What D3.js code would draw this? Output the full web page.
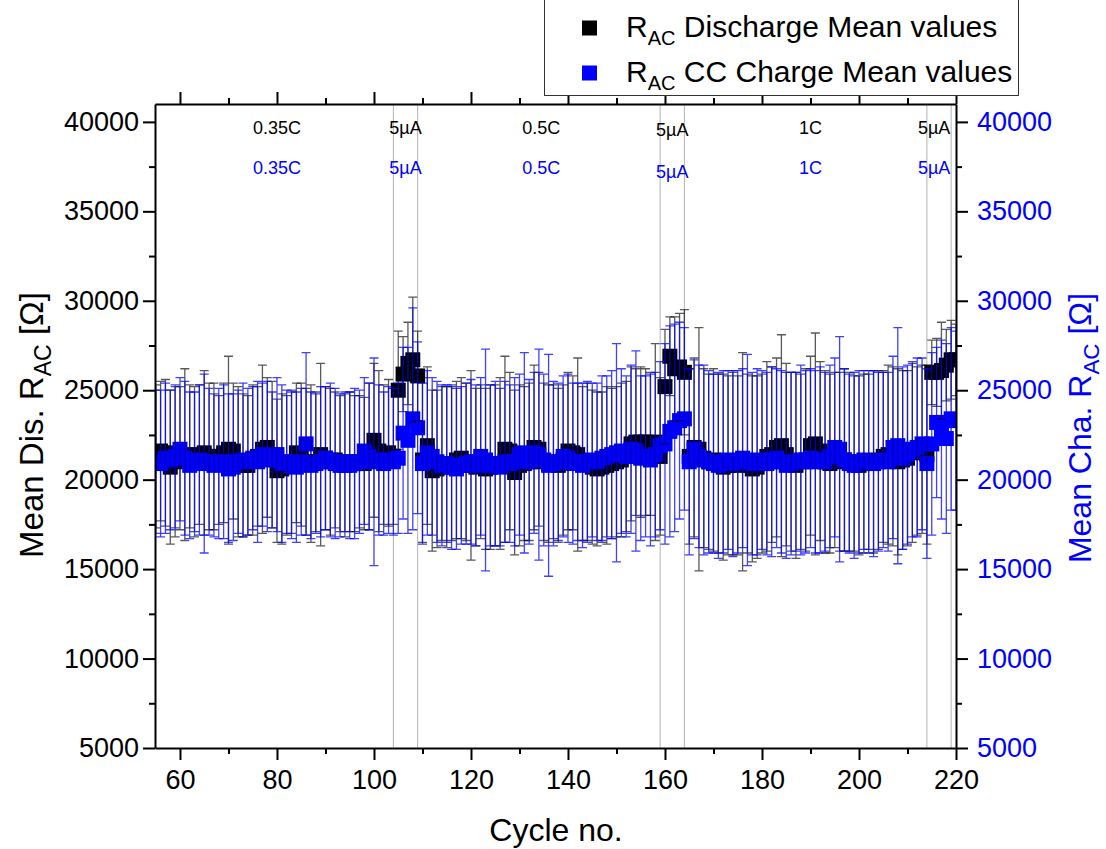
<!DOCTYPE html>
<meta charset="utf-8">
<style>
body { margin: 0; background: #fff; }
svg { font-family: "Liberation Sans", Arial, sans-serif; }
.axis path, .axis line { stroke: #000; stroke-width: 2px; }
.axis text { font-size: 27px; fill: #000; }
.axis.right text { fill: #0000ff; }
</style>
<svg width="1106" height="849"></svg>
<script src="https://cdn.jsdelivr.net/npm/d3@7"></script>
<script>

// cycle numbers 55..220
var cycles = [55,56,57,58,59,60,61,62,63,64,65,66,67,68,69,70,71,72,73,74,75,76,77,78,79,80,81,82,83,84,
  85,86,87,88,89,90,91,92,93,94,95,96,97,98,99,100,101,102,103,104,105,106,107,108,109,
  110,111,112,113,114,115,116,117,118,119,120,121,122,123,124,125,126,127,128,129,130,131,132,133,134,
  135,136,137,138,139,140,141,142,143,144,145,146,147,148,149,150,151,152,153,154,155,156,157,158,159,
  160,161,162,163,164,165,166,167,168,169,170,171,172,173,174,175,176,177,178,179,180,181,182,183,184,
  185,186,187,188,189,190,191,192,193,194,195,196,197,198,199,200,201,202,203,204,205,206,207,208,209,
  210,211,212,213,214,215,216,217,218,219,220];

// discharge mean R_AC and its error
var disMean = [21300,21600,21500,20700,21000,21200,21400,21300,21000,21400,
  21500,21300,21300,21100,21500,21700,21600,21000,20800,20800,
  21100,21300,21700,21800,21400,20500,20600,20800,21000,21500,
  21400,21000,20900,21000,21400,21200,21000,21100,20900,20800,
  21000,20900,21000,20900,21300,22200,21600,21400,21500,21300,
  25000,25900,26500,26700,25800,
  21100,21900,20500,20600,20900,20700,20900,21100,21200,21000,
  20800,20700,21000,20600,20700,20800,20900,21700,21600,20400,
  20800,20900,21000,21800,21700,21000,20900,21000,20800,21100,
  21600,21500,21400,20900,21000,20700,20600,20700,20800,20900,
  21000,21100,21300,22000,22100,22100,22100,22000,22100,21300,
  25200,26900,26200,26300,26000,
  21300,21800,21700,21200,21000,21100,20900,20700,20800,20900,
  20800,21000,20900,20600,20700,20900,21300,21400,21800,21900,
  21400,21000,20800,21000,21100,21900,22000,21600,21000,20900,
  21100,21000,21100,21000,20900,20800,20900,21000,21000,21100,
  21300,21400,21300,21000,21100,21200,21500,21600,21700,21400,
  26000,26000,26100,26400,26700,26700];

var disErr = [4000,3900,4100,4300,4200,4000,4800,4000,4200,3900,
  4600,4100,4100,3600,3900,5200,3800,4200,4000,3900,
  4200,3900,4700,3900,4100,4000,4200,3900,4000,3900,
  4000,4100,4400,3900,5100,4000,4100,3800,3800,4000,
  3900,3800,3700,3700,4100,4300,4500,3900,4100,3800,
  3300,2100,2300,3500,2500,
  4600,4400,4500,4400,4300,4500,4300,4400,4500,4400,
  5300,4400,4300,4500,4600,4500,4800,5200,4400,4600,
  4500,4300,4400,4600,4300,4400,4400,4300,4300,4200,
  4400,4300,5400,4300,4400,4300,4300,4200,4400,4200,
  4200,4300,4200,4300,4100,4200,4100,4000,5500,4400,
  3200,2200,2900,3000,3500,
  4900,5000,6800,5000,4900,5100,5000,5200,5000,5100,
  5000,6100,5000,5200,5100,5000,5300,4900,5000,6200,
  5100,5000,5200,4900,5100,5000,6200,5000,5100,5000,
  4900,5000,5100,5000,4900,5000,5000,4900,5100,5000,
  4800,5000,5000,5200,5000,4900,5000,4700,4700,5000,
  1800,1900,2700,2000,2200,2000];

// CC charge mean R_AC and its error
var chaMean = [21000,20900,21200,21100,21300,21700,21200,20800,21000,21100,
  20900,21000,20800,20900,21000,20600,20700,21000,21100,21000,
  21200,21000,21400,21300,21100,21400,20900,21000,20800,20700,
  21000,22000,20800,20900,21000,21200,21100,20900,20800,21000,
  20800,20900,21000,21600,21300,21000,21100,20900,21100,21000,
  21200,22600,22200,23400,22900,
  20900,21500,21300,21000,20800,20900,20700,20600,20800,20900,
  21000,20800,21300,21100,20800,20900,20700,21000,20900,21000,
  21400,21500,21000,21500,21400,21100,20800,20900,21000,21300,
  21200,20900,21000,20800,21000,21100,21000,21200,21300,21400,
  21500,21600,21300,21700,21600,21200,21300,21100,21400,21900,
  22000,22700,22900,23300,23400,
  21000,21700,21300,21100,21000,20900,20800,21000,21100,20900,
  21000,21200,21100,20900,21000,21100,20900,21000,21200,21000,
  20800,20900,21000,21100,21000,21200,21000,21100,21000,21300,
  21800,21700,21100,20900,20800,21000,21100,21000,20900,21000,
  21100,21000,21800,21900,21200,21400,21700,21800,22000,20900,
  22000,23200,22800,22300,23400,23300];

var chaErr = [4000,4100,4200,3900,4000,4000,4300,4100,3900,4200,
  5000,4100,4000,4200,4300,4200,4100,4000,4300,4100,
  4000,4500,4000,4200,3800,4300,4400,4000,4100,4200,
  4100,5100,4100,3900,4200,4000,4300,4200,4000,3900,
  4100,4200,4000,4100,4100,5800,4200,4000,4100,4100,
  4200,4800,5200,6200,4800,
  4500,4600,4400,4500,4500,4400,4600,4500,4400,4500,
  4600,4500,4400,6200,4500,4600,4400,4500,4400,4700,
  4500,5600,4600,4500,5900,4800,6200,4600,4400,4500,
  4700,4500,4400,4600,4500,4300,4400,4600,4500,4700,
  6100,4600,4500,4700,5600,4600,4500,4800,4600,4700,
  5600,5900,5800,5500,5100,
  5200,5000,5100,5300,5100,5000,5200,5100,5000,5200,
  5100,5000,5900,5100,5200,5000,5100,5300,5000,5100,
  5200,5100,5000,5300,5100,5000,5100,5200,5000,5100,
  5000,6300,5100,5000,5200,5100,5000,5100,5200,5000,
  4900,5000,5100,6600,5100,5000,4900,5000,4800,5300,
  5100,4200,5000,5300,5100,5000];

// segment borders and labels
var borderCycles = [104, 109, 159, 164, 214, 219];
var rateLabels = ["0.35C", "5µA", "0.5C", "5µA", "1C", "5µA"];
var rateCycles = [80, 106.5, 134.5, 161.5, 190, 215.5];
var disLabelLevel = [39350, 39350, 39350, 39200, 39350, 39350];
var chaLabelLevel = [37100, 37100, 37100, 36850, 37100, 37100];

var xMajor = [60, 80, 100, 120, 140, 160, 180, 200, 220];
var xMinor = [70, 90, 110, 130, 150, 170, 190, 210];
var yMajor = [5000, 10000, 15000, 20000, 25000, 30000, 35000, 40000];
var yMinor = [7500, 12500, 17500, 22500, 27500, 32500, 37500];

(function() {
var svg = d3.select("svg"),
    mLeft = 155, mRight = 956, mTop = 104, mBottom = 748;

var x = d3.scaleLinear().domain([54.85, 220]).range([mLeft, mRight]);
var y = d3.scaleLinear().domain([5000, 41000]).range([mBottom, mTop]);

var dis = cycles.map(function(c, i) { return {c: c, m: disMean[i], e: disErr[i]}; });
var cha = cycles.map(function(c, i) { return {c: c, m: chaMean[i], e: chaErr[i]}; });

svg.append("defs").append("clipPath").attr("id", "clip")
  .append("rect").attr("x", mLeft).attr("y", mTop)
  .attr("width", mRight - mLeft).attr("height", mBottom - mTop);

// segment border lines
svg.append("g").selectAll("line").data(borderCycles).enter().append("line")
    .attr("x1", function(d) { return x(d); }).attr("x2", function(d) { return x(d); })
    .attr("y1", mTop).attr("y2", mBottom)
    .attr("stroke", "#b4b4b4").attr("stroke-width", 1);

var plot = svg.append("g").attr("clip-path", "url(#clip)");
var ms = 15, cap = 4.5;

function markers(data, color) {
  plot.append("g").selectAll("rect").data(data).enter().append("rect")
      .attr("x", function(d) { return x(d.c) - ms / 2; })
      .attr("y", function(d) { return y(d.m) - ms / 2; })
      .attr("width", ms).attr("height", ms)
      .attr("fill", color);
}

function errorBars(data, color, opacity) {
  var g = plot.append("g").attr("stroke", color).attr("stroke-width", 1.3)
      .attr("stroke-opacity", opacity).attr("fill", "none");
  g.selectAll("path").data(data).enter().append("path")
      .attr("d", function(d) {
        var cx = x(d.c), y0 = y(d.m - d.e), y1 = y(d.m + d.e);
        return "M" + cx + "," + y0 + "V" + y1 +
               "M" + (cx - cap) + "," + y1 + "H" + (cx + cap) +
               "M" + (cx - cap) + "," + y0 + "H" + (cx + cap);
      });
}

markers(dis, "#000");
markers(cha, "#0000ff");
errorBars(dis, "#000", 0.65);
errorBars(cha, "#0000ff", 0.75);

// axes
svg.append("g").attr("class", "axis").attr("transform", "translate(0," + mBottom + ")")
    .call(d3.axisBottom(x).tickValues(xMajor).tickSize(12).tickSizeOuter(0).tickPadding(10));
svg.append("g").attr("class", "axis").attr("transform", "translate(0," + mBottom + ")")
    .call(d3.axisBottom(x).tickValues(xMinor).tickSize(6).tickFormat(""))
    .select(".domain").remove();
svg.append("g").attr("class", "axis").attr("transform", "translate(0," + mTop + ")")
    .call(d3.axisTop(x).tickValues(xMajor).tickSize(12).tickSizeOuter(0).tickFormat(""));
svg.append("g").attr("class", "axis").attr("transform", "translate(0," + mTop + ")")
    .call(d3.axisTop(x).tickValues(xMinor).tickSize(6).tickFormat(""))
    .select(".domain").remove();

svg.append("g").attr("class", "axis").attr("transform", "translate(" + mLeft + ",0)")
    .call(d3.axisLeft(y).tickValues(yMajor).tickSize(12).tickSizeOuter(0).tickPadding(4).tickFormat(d3.format("d")));
svg.append("g").attr("class", "axis").attr("transform", "translate(" + mLeft + ",0)")
    .call(d3.axisLeft(y).tickValues(yMinor).tickSize(6).tickFormat(""))
    .select(".domain").remove();
svg.append("g").attr("class", "axis right").attr("transform", "translate(" + mRight + ",0)")
    .call(d3.axisRight(y).tickValues(yMajor).tickSize(12).tickSizeOuter(0).tickPadding(9).tickFormat(d3.format("d")));
svg.append("g").attr("class", "axis").attr("transform", "translate(" + mRight + ",0)")
    .call(d3.axisRight(y).tickValues(yMinor).tickSize(6).tickFormat(""))
    .select(".domain").remove();

// axis titles
function subTitle(g, pre, post) {
  g.append("tspan").text(pre);
  g.append("tspan").attr("dy", 8).attr("font-size", "0.7em").text("AC");
  g.append("tspan").attr("dy", -8).text(post);
}
var tl = svg.append("text").attr("transform", "translate(43,425) rotate(-90)")
    .attr("text-anchor", "middle").attr("font-size", 33).attr("fill", "#000");
subTitle(tl, "Mean Dis. R", " [Ω]");
var tr = svg.append("text").attr("transform", "translate(1091,428) rotate(-90)")
    .attr("text-anchor", "middle").attr("font-size", 32).attr("fill", "#0000ff");
subTitle(tr, "Mean Cha. R", " [Ω]");
svg.append("text").attr("x", 556).attr("y", 841).attr("text-anchor", "middle")
    .attr("font-size", 32).text("Cycle no.");

// rate labels
svg.append("g").selectAll("text").data(rateLabels).enter().append("text")
    .attr("x", function(d, i) { return x(rateCycles[i]); })
    .attr("y", function(d, i) { return y(disLabelLevel[i]); })
    .attr("text-anchor", "middle").attr("font-size", 18).attr("fill", "#000")
    .text(function(d) { return d; });
svg.append("g").selectAll("text").data(rateLabels).enter().append("text")
    .attr("x", function(d, i) { return x(rateCycles[i]); })
    .attr("y", function(d, i) { return y(chaLabelLevel[i]); })
    .attr("text-anchor", "middle").attr("font-size", 18).attr("fill", "#0000ff")
    .text(function(d) { return d; });

// legend
var lg = svg.append("g");
lg.append("rect").attr("x", 544.5).attr("y", -1).attr("width", 474).attr("height", 96.5)
    .attr("fill", "#fff").attr("stroke", "#333").attr("stroke-width", 1);
var legendItems = [["#000", "Discharge Mean values"], ["#0000ff", "CC Charge Mean values"]];
legendItems.forEach(function(it, i) {
  var cy = 28 + i * 45;
  lg.append("rect").attr("x", 582).attr("y", cy - 7.5).attr("width", 15).attr("height", 15).attr("fill", it[0]);
  var t = lg.append("text").attr("x", 626).attr("y", cy + 9).attr("font-size", 30).attr("fill", "#000");
  t.append("tspan").text("R");
  t.append("tspan").attr("dy", 8).attr("font-size", 20).text("AC");
  t.append("tspan").attr("dy", -8).text(" " + it[1]);
});
})();

</script>
